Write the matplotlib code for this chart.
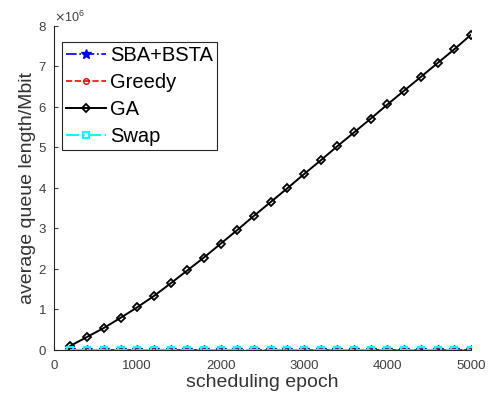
import numpy as np
import matplotlib
matplotlib.use('Agg')
import matplotlib.pyplot as plt

plt.rcParams['font.family'] = ['Liberation Sans', 'DejaVu Sans']

# scheduling epochs
epoch = [200, 400, 600, 800, 1000, 1200, 1400, 1600, 1800, 2000, 2200, 2400, 2600,
         2800, 3000, 3200, 3400, 3600, 3800, 4000, 4200, 4400, 4600, 4800, 5000]

# average queue length (Mbit)
ga = [0.10e6, 0.32e6, 0.54e6, 0.79e6, 1.05e6, 1.33e6, 1.64e6, 1.96e6, 2.28e6, 2.62e6,
      2.96e6, 3.31e6, 3.65e6, 3.99e6, 4.34e6, 4.68e6, 5.03e6, 5.37e6, 5.71e6, 6.06e6,
      6.40e6, 6.74e6, 7.08e6, 7.42e6, 7.78e6]
sba_bsta = [1.0e3] * 25
greedy = [2.0e3] * 25
swap = [1.5e3] * 25

fig = plt.figure(figsize=(4.89, 3.98), dpi=100)
ax = fig.add_axes([0.110, 0.121, 0.853, 0.814])

ax.plot(epoch, sba_bsta, '-.', color='blue', marker='*', markersize=7, lw=1.2, label='SBA+BSTA')
ax.plot(epoch, greedy, '--', color='red', marker='o', markersize=4, mfc='none', lw=1.2, label='Greedy')
ax.plot(epoch, ga, '-', color='black', marker='D', markersize=4.5, mfc='none', mew=1.3, lw=1.4, label='GA')
ax.plot(epoch, swap, '-.', color='cyan', marker='s', markersize=5, mfc='none', mew=1.5, lw=1.5, label='Swap')

ax.set_xlim(0, 5000)
ax.set_ylim(0, 8e6)
ax.set_xticks([0, 1000, 2000, 3000, 4000, 5000])
ax.set_yticks(np.arange(0, 9) * 1e6)
ax.ticklabel_format(axis='y', style='sci', scilimits=(6, 6), useMathText=True)
ax.yaxis.get_offset_text().set_fontsize(9)
ax.yaxis.get_offset_text().set_color('#404040')

for s in ['top', 'right']:
    ax.spines[s].set_visible(False)
for s in ['left', 'bottom']:
    ax.spines[s].set_color('#262626')
ax.tick_params(direction='in', length=3, labelsize=9.5, colors='#404040')
ax.tick_params(axis='x', pad=7)
ax.tick_params(axis='y', pad=5)

ax.set_xlabel('scheduling epoch', fontsize=14, color='#333333', labelpad=2)
ax.set_ylabel('average queue length/Mbit', fontsize=14, color='#333333', labelpad=1)

leg = ax.legend(loc='upper left', bbox_to_anchor=(0.02, 0.95), fontsize=14.5,
                handlelength=2.0, handletextpad=0.2, labelspacing=0.4,
                borderpad=0.2, borderaxespad=0, fancybox=False, framealpha=1)
leg.get_frame().set_edgecolor('#262626')
leg.get_frame().set_linewidth(0.8)

fig.savefig('out.png', dpi=100)
